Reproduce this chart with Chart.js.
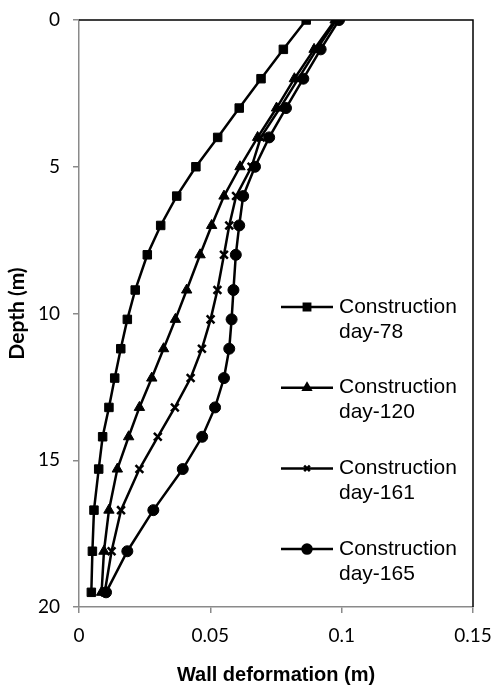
<!DOCTYPE html>
<html>
<head>
<meta charset="utf-8">
<script src="https://cdn.jsdelivr.net/npm/chart.js@4/dist/chart.umd.min.js"></script>
<style>
  body { margin: 0; background: #fff; }
  #wrap { width: 494px; height: 688px; }
</style>
</head>
<body>
<div id="wrap"><canvas id="chart" width="494" height="688"></canvas></div>
<script>
// Datos
const depths = [0, 1, 2, 3, 4, 5, 6, 7, 8, 9.2, 10.2, 11.2, 12.2, 13.2, 14.2, 15.3, 16.7, 18.1, 19.5];
const day78  = [0.0865, 0.0778, 0.0693, 0.061, 0.0528, 0.0445, 0.0372, 0.0311, 0.026, 0.0214, 0.0184, 0.0159, 0.0136, 0.0114, 0.009, 0.0075, 0.0057, 0.0051, 0.0047];
const day120 = [0.0975, 0.0895, 0.082, 0.0752, 0.068, 0.0613, 0.0552, 0.0505, 0.0461, 0.041, 0.0367, 0.0322, 0.0277, 0.023, 0.0189, 0.0146, 0.0114, 0.0095, 0.0086];
const day161 = [0.098, 0.0905, 0.0835, 0.0765, 0.0692, 0.0657, 0.0598, 0.0572, 0.0552, 0.0527, 0.0501, 0.0468, 0.0425, 0.0365, 0.03, 0.023, 0.016, 0.0124, 0.0098];
const day165 = [0.099, 0.092, 0.0854, 0.0788, 0.0724, 0.067, 0.0625, 0.061, 0.0597, 0.0588, 0.0581, 0.0572, 0.0552, 0.0518, 0.0469, 0.0395, 0.0283, 0.0184, 0.0103];
const seriesNames = [['Construction', 'day-78'], ['Construction', 'day-120'], ['Construction', 'day-161'], ['Construction', 'day-165']];
const xTicks = [0, 0.05, 0.1, 0.15];
const yTicks = [0, 5, 10, 15, 20];

const axisGray = '#8a8a8a';

function toPoints(values) {
    return values.map((v, i) => ({ x: v, y: depths[i] }));
}

const styles = [
    { pointStyle: 'rect', radius: 6, legendRadius: 4.5, borderWidth: 1 },
    { pointStyle: 'triangle', radius: 6, legendRadius: 4, borderWidth: 1 },
    { pointStyle: 'crossRot', radius: 5.5, legendRadius: 4, borderWidth: 2.5 },
    { pointStyle: 'circle', radius: 5.5, legendRadius: 4.5, borderWidth: 1 }
];

const datasets = [day78, day120, day161, day165].map((vals, i) => ({
    label: seriesNames[i].join(' '),
    data: toPoints(vals),
    showLine: true,
    borderColor: '#000',
    backgroundColor: '#000',
    borderWidth: 2.5,
    pointStyle: styles[i].pointStyle,
    pointRadius: styles[i].radius,
    pointBorderWidth: styles[i].borderWidth,
    pointBorderColor: '#000',
    pointBackgroundColor: '#000'
}));

// Bordes superior y derecho del área de trazado
const frameLines = {
    id: 'frameLines',
    afterDraw(chart) {
        const { ctx, chartArea } = chart;
        ctx.save();
        ctx.strokeStyle = '#000';
        ctx.lineWidth = 1.5;
        ctx.beginPath();
        ctx.moveTo(chartArea.left, chartArea.top);
        ctx.lineTo(chartArea.right, chartArea.top);
        ctx.lineTo(chartArea.right, chartArea.bottom);
        ctx.stroke();
        ctx.restore();
    }
};

// Leyenda dentro del área de trazado
const innerLegend = {
    id: 'innerLegend',
    afterDraw(chart) {
        const ctx = chart.ctx;
        const x0 = 281, x1 = 333, textX = 339;
        const firstY = 307, step = 80.7, lineGap = 25;
        ctx.save();
        ctx.font = '21px "Liberation Sans", Arial, sans-serif';
        ctx.textBaseline = 'middle';
        ctx.textAlign = 'left';
        chart.data.datasets.forEach((ds, i) => {
            const y = firstY + i * step;
            ctx.strokeStyle = '#000';
            ctx.lineWidth = 2.5;
            ctx.beginPath();
            ctx.moveTo(x0, y);
            ctx.lineTo(x1, y);
            ctx.stroke();
            ctx.fillStyle = '#000';
            Chart.helpers.drawPoint(ctx, {
                pointStyle: styles[i].pointStyle,
                radius: styles[i].legendRadius,
                borderWidth: styles[i].borderWidth,
                rotation: 0
            }, (x0 + x1) / 2, y);
            ctx.fillStyle = '#000';
            seriesNames[i].forEach((line, j) => {
                ctx.fillText(line, textX, y + j * lineGap);
            });
        });
        ctx.restore();
    }
};

new Chart(document.getElementById('chart'), {
    type: 'scatter',
    data: { datasets },
    options: {
        responsive: false,
        animation: false,
        layout: { padding: { top: 20, right: 21, left: 0, bottom: 0 } },
        plugins: {
            legend: { display: false },
            tooltip: { enabled: false }
        },
        scales: {
            x: {
                type: 'linear',
                position: 'bottom',
                min: xTicks[0],
                max: xTicks[xTicks.length - 1],
                afterBuildTicks: scale => { scale.ticks = xTicks.map(v => ({ value: v })); },
                afterFit: scale => {
                    scale.height = 81;
                    scale.paddingLeft = 0;
                    scale.paddingRight = 0;
                },
                border: { color: axisGray, width: 1.5 },
                grid: { drawOnChartArea: false, drawTicks: true, tickLength: 6, color: axisGray, lineWidth: 1.5 },
                ticks: {
                    padding: 11,
                    color: '#000',
                    font: { family: 'Lato, "Liberation Sans", sans-serif', size: 19 },
                    callback: v => String(+Number(v).toFixed(2))
                },
                title: {
                    display: true,
                    text: 'Wall deformation (m)',
                    color: '#000',
                    font: { family: '"Liberation Sans", Arial, sans-serif', size: 20, weight: 'bold' },
                    padding: { top: 0, bottom: 1 }
                }
            },
            y: {
                type: 'linear',
                reverse: true,
                min: yTicks[0],
                max: yTicks[yTicks.length - 1],
                afterBuildTicks: scale => { scale.ticks = yTicks.map(v => ({ value: v })); },
                afterFit: scale => {
                    scale.width = 79;
                    scale.paddingTop = 0;
                    scale.paddingBottom = 0;
                },
                border: { color: axisGray, width: 1.5 },
                grid: { drawOnChartArea: false, drawTicks: true, tickLength: 6, color: axisGray, lineWidth: 1.5 },
                ticks: {
                    padding: 13,
                    color: '#000',
                    font: { family: 'Lato, "Liberation Sans", sans-serif', size: 19 }
                },
                title: {
                    display: true,
                    text: 'Depth (m)',
                    color: '#000',
                    font: { family: 'Lato, "Liberation Sans", sans-serif', size: 21, weight: 'bold' },
                    padding: { top: 5, bottom: 0 }
                }
            }
        }
    },
    plugins: [frameLines, innerLegend]
});
</script>
</body>
</html>
